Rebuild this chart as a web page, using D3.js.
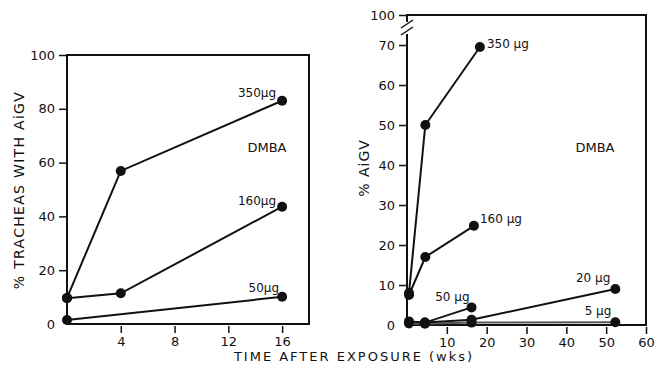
<!DOCTYPE html>
<html lang='en'>
  <head>
    <meta charset='utf-8'>
    <title>DMBA AiGV</title>
    <script type='text/javascript' src='https://cdn.jsdelivr.net/npm/d3@7'></script>
    <style type='text/css'>
    body { margin: 0; background: #fff; }
    .axis line { stroke: #111; stroke-width: 1.5; }
    .axis text { font-family: 'DejaVu Sans', sans-serif; font-size: 13px; fill: #111; }
    .lbl { font-family: 'DejaVu Sans', sans-serif; font-size: 12px; fill: #111; }
    </style>
  </head>
  <body>
    <script type='text/javascript'>

    // left panel: % tracheas with AiGV
    var leftTicksX = [4, 8, 12, 16];
    var leftTicksY = [0, 20, 40, 60, 80, 100];
    var left350 = [[0, 9.7], [4, 56.9], [16, 83]];
    var left160 = [[0, 9.6], [4, 11.4], [16, 43.6]];
    var left50 = [[0, 1.5], [16, 10.1]];

    // right panel: % AiGV
    var rightTicksX = [10, 20, 30, 40, 50, 60];
    var rightTicksY = [0, 10, 20, 30, 40, 50, 60, 70, 100];
    var right350 = [[0.5, 8], [4.6, 50], [18.3, 69.5]];
    var right160 = [[0.5, 7.5], [4.6, 17], [16.8, 24.8]];
    var right50 = [[0.5, 0.9], [4.5, 0.6], [16.2, 4.4]];
    var right20 = [[4.5, 0.6], [16.2, 1.3], [52.3, 9]];
    var right5 = [[0.5, 0.4], [4.5, 0.3], [16.2, 0.6], [52.3, 0.7]];

    var w = 660;
    var h = 371;

    var svg = d3.select('body')
                .append('svg')
                .attr('width', w)
                .attr('height', h);

    var line = d3.line();

    function panel(xScale, yScale, xTicks, yTicks, series) {
      var x0 = xScale.range()[0], x1 = xScale.range()[1];
      var y0 = yScale(0), yTop = yScale(yTicks[yTicks.length - 1]);

      var xAxis = d3.axisBottom(xScale).tickValues(xTicks).tickSize(7).tickPadding(4);
      var yAxis = d3.axisLeft(yScale).tickValues(yTicks).tickSize(8).tickPadding(4);

      var gx = svg.append('g')
         .attr('class', 'x axis')
         .attr('transform', 'translate(0,' + (y0 + 2) + ')')
         .call(xAxis);
      gx.select('.domain').remove();

      var gy = svg.append('g')
         .attr('class', 'y axis')
         .attr('transform', 'translate(' + x0 + ',0)')
         .call(yAxis);
      gy.select('.domain').remove();
      gy.selectAll('.tick').filter(function(d){ return d === 0; }).select('line').remove();

      // frame
      svg.append('rect')
         .attr('x', x0)
         .attr('y', yTop)
         .attr('width', x1 - x0)
         .attr('height', y0 - yTop)
         .attr('fill', 'none')
         .attr('stroke', '#111')
         .attr('stroke-width', 2);

      series.forEach(function(s){
        svg.append('path')
           .datum(s.data)
           .attr('d', line.x(function(d){ return xScale(d[0]); }).y(function(d){ return yScale(d[1]); }))
           .attr('fill', 'none')
           .attr('stroke', s.color || '#111')
           .attr('stroke-width', 2);

        svg.selectAll(null)
           .data(s.data)
           .enter()
           .append('circle')
           .attr('cx', function(d){ return xScale(d[0]); })
           .attr('cy', function(d){ return yScale(d[1]); })
           .attr('r', 5)
           .attr('fill', '#111');

        var last = s.data[s.data.length - 1];
        svg.append('text')
           .attr('class', 'lbl')
           .attr('x', xScale(last[0]) + s.dx)
           .attr('y', yScale(last[1]) + s.dy)
           .attr('text-anchor', s.anchor)
           .text(s.label);
      });
    }

    // left
    var xL = d3.scaleLinear().domain([0, 18]).range([67, 309]);
    var yL = d3.scaleLinear().domain([0, 100]).range([324, 55]);
    panel(xL, yL, leftTicksX, leftTicksY, [
      {data: left350, label: '350\u00b5g', dx: -6, dy: -4, anchor: 'end'},
      {data: left160, label: '160\u00b5g', dx: -6, dy: -2, anchor: 'end'},
      {data: left50, label: '50\u00b5g', dx: -3, dy: -5, anchor: 'end'}
    ]);

    // right (axis broken between 70 and 100)
    var xR = d3.scaleLinear().domain([0, 60]).range([407, 646]);
    var yR = d3.scaleLinear().domain([0, 70, 100]).range([325, 45, 15]);
    panel(xR, yR, rightTicksX, rightTicksY, [
      {data: right5, label: '5 \u00b5g', dx: -4, dy: -7, anchor: 'end', color: '#555'},
      {data: right20, label: '20 \u00b5g', dx: -5, dy: -7, anchor: 'end'},
      {data: right50, label: '50 \u00b5g', dx: -2, dy: -6, anchor: 'end'},
      {data: right160, label: '160 \u00b5g', dx: 6, dy: -3, anchor: 'start'},
      {data: right350, label: '350 \u00b5g', dx: 7, dy: 1, anchor: 'start'}
    ]);

    // break on the right y axis
    svg.append('rect').attr('x', 404).attr('y', 22).attr('width', 6).attr('height', 12).attr('fill', '#fff');
    svg.append('line').attr('x1', 401).attr('y1', 28).attr('x2', 413).attr('y2', 20)
       .attr('stroke', '#111').attr('stroke-width', 1.5);
    svg.append('line').attr('x1', 401).attr('y1', 35).attr('x2', 413).attr('y2', 27)
       .attr('stroke', '#111').attr('stroke-width', 1.5);

    // DMBA tags
    svg.append('text').attr('class', 'lbl').attr('x', 267).attr('y', 152)
       .attr('text-anchor', 'middle').style('font-size', '13px').text('DMBA');
    svg.append('text').attr('class', 'lbl').attr('x', 595).attr('y', 152)
       .attr('text-anchor', 'middle').style('font-size', '13px').text('DMBA');

    // axis titles
    svg.append('text').attr('class', 'lbl')
       .attr('x', 354).attr('y', 361)
       .attr('text-anchor', 'middle')
       .style('font-size', '13px').style('letter-spacing', '2px')
       .text('TIME AFTER EXPOSURE (wks)');

    svg.append('text').attr('class', 'lbl')
       .attr('transform', 'translate(24,190) rotate(-90)')
       .attr('text-anchor', 'middle')
       .style('font-size', '14px').style('letter-spacing', '1.3px')
       .text('% TRACHEAS WITH AiGV');

    svg.append('text').attr('class', 'lbl')
       .attr('transform', 'translate(369,168) rotate(-90)')
       .attr('text-anchor', 'middle')
       .style('font-size', '14px').style('letter-spacing', '1px')
       .text('% AiGV');

    </script>
  </body>
</html>
